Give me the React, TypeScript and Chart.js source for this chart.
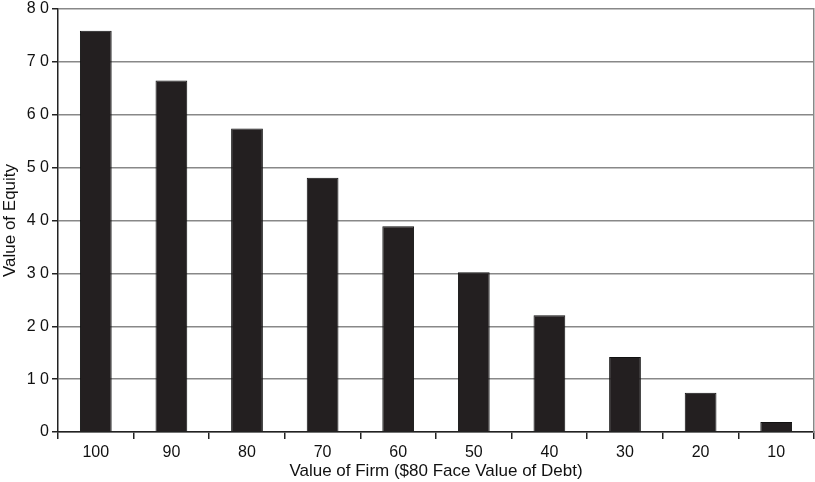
import React, { useEffect, useRef } from 'react';
import { Chart, registerables } from 'chart.js';

Chart.register(...registerables);

const firmValues = ['100', '90', '80', '70', '60', '50', '40', '30', '20', '10'];
const equityValues = [75.9, 66.5, 57.4, 48.1, 38.9, 30.2, 22.1, 14.2, 7.4, 1.9];
const yTickLabels = ['0', '1 0', '2 0', '3 0', '4 0', '5 0', '6 0', '7 0', '8 0'];

const FONT = 'Arial, "Liberation Sans", Helvetica, sans-serif';

const App: React.FC = () => {
  const canvasRef = useRef<HTMLCanvasElement>(null);
  const chartRef = useRef<Chart | null>(null);

  useEffect(() => {
    if (!canvasRef.current) return;
    const ctx = canvasRef.current.getContext('2d');
    if (!ctx) return;

    if (chartRef.current) {
      chartRef.current.destroy();
    }

    chartRef.current = new Chart(ctx, {
      type: 'bar',
      data: {
        labels: firmValues,
        datasets: [
          {
            data: equityValues,
            backgroundColor: '#231f20',
            borderColor: '#111',
            borderWidth: 1,
            categoryPercentage: 1,
            barPercentage: 0.42,
          },
        ],
      },
      options: {
        animation: false,
        responsive: false,
        layout: { padding: { top: 0, right: 1, left: 0, bottom: 0 } },
        plugins: {
          legend: { display: false },
          tooltip: { enabled: false },
        },
        scales: {
          x: {
            grid: {
              drawOnChartArea: false,
              drawTicks: true,
              tickLength: 7,
              color: '#222',
              lineWidth: 1.5,
            },
            border: { color: '#222', width: 1.5 },
            ticks: {
              color: '#111',
              font: { family: FONT, size: 16 },
              padding: 4,
            },
            title: {
              display: true,
              text: 'Value of Firm ($80 Face Value of Debt)',
              color: '#111',
              font: { family: FONT, size: 17 },
              padding: { top: 0, bottom: 0 },
            },
            afterFit: (scale: any) => {
              scale.height = 50;
            },
          },
          y: {
            min: 0,
            max: 80,
            ticks: {
              stepSize: 10,
              color: '#111',
              font: { family: FONT, size: 16, lineHeight: 0.75 },
              padding: 3,
              callback: (_v: any, i: number) => yTickLabels[i],
            },
            grid: {
              color: '#888',
              lineWidth: 1.5,
              tickColor: '#222',
              tickLength: 6,
            },
            border: { color: '#222', width: 1.5 },
            title: {
              display: true,
              text: 'Value of Equity',
              color: '#111',
              font: { family: FONT, size: 17 },
              padding: { top: 0, bottom: 2 },
            },
            afterFit: (scale: any) => {
              scale.width = 58;
            },
          },
          y2: {
            position: 'right',
            min: 0,
            max: 80,
            ticks: { display: false },
            grid: { drawOnChartArea: false, drawTicks: false },
            border: { color: '#888', width: 1.5 },
          },
        },
      },
    });

    return () => {
      if (chartRef.current) {
        chartRef.current.destroy();
        chartRef.current = null;
      }
    };
  }, []);

  return (
    <div style={{ position: 'fixed', left: 0, top: 0, width: 815, height: 482, background: '#fff' }}>
      <canvas ref={canvasRef} width={815} height={482}></canvas>
    </div>
  );
};

export default App;
